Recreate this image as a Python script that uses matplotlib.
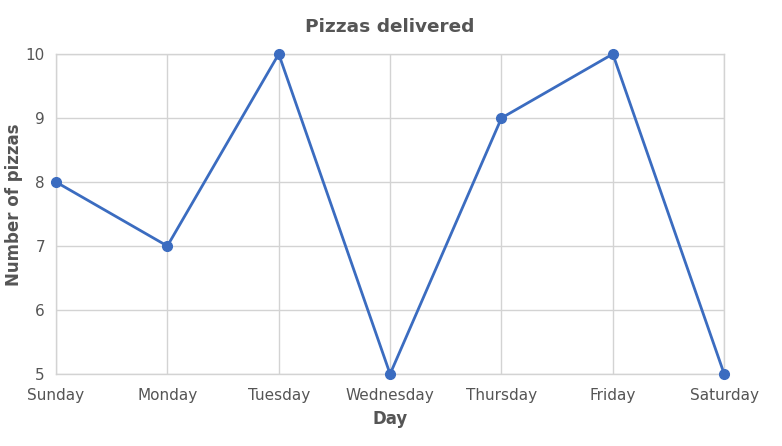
import matplotlib
matplotlib.use("Agg")
import matplotlib.pyplot as plt

days = ["Sunday", "Monday", "Tuesday", "Wednesday", "Thursday", "Friday", "Saturday"]
pizzas = [8, 7, 10, 5, 9, 10, 5]
y_ticks = [5, 6, 7, 8, 9, 10]

text_color = "#555555"
line_color = "#3b6cc0"
grid_color = "#d3d3d3"

plt.rcParams["font.family"] = "DejaVu Sans"

fig = plt.figure(figsize=(7.82, 4.46), dpi=100)
ax = fig.add_axes([0.0716, 0.1614, 0.8545, 0.7175])

ax.plot(range(len(days)), pizzas, color=line_color, linewidth=2,
        marker="o", markersize=7, clip_on=False, zorder=3)

ax.set_xlim(0, len(days) - 1)
ax.set_ylim(5, 10)
ax.set_xticks(range(len(days)))
ax.set_xticklabels(days)
ax.set_yticks(y_ticks)
ax.grid(True, color=grid_color, linewidth=1)
ax.set_axisbelow(True)
for s in ax.spines.values():
    s.set_color(grid_color)
    s.set_linewidth(1)
ax.tick_params(length=0, labelsize=11, labelcolor=text_color)
ax.tick_params(axis="x", pad=10)
ax.tick_params(axis="y", pad=8)

ax.set_title("Pizzas delivered", fontsize=13.3, fontweight="bold", color=text_color, pad=16)
ax.set_xlabel("Day", fontsize=12, fontweight="bold", color=text_color, labelpad=5)
ax.set_ylabel("Number of pizzas", fontsize=12, fontweight="bold", color=text_color)
ax.yaxis.set_label_coords(-0.050, 0.53)

fig.savefig("out.png", dpi=100)
